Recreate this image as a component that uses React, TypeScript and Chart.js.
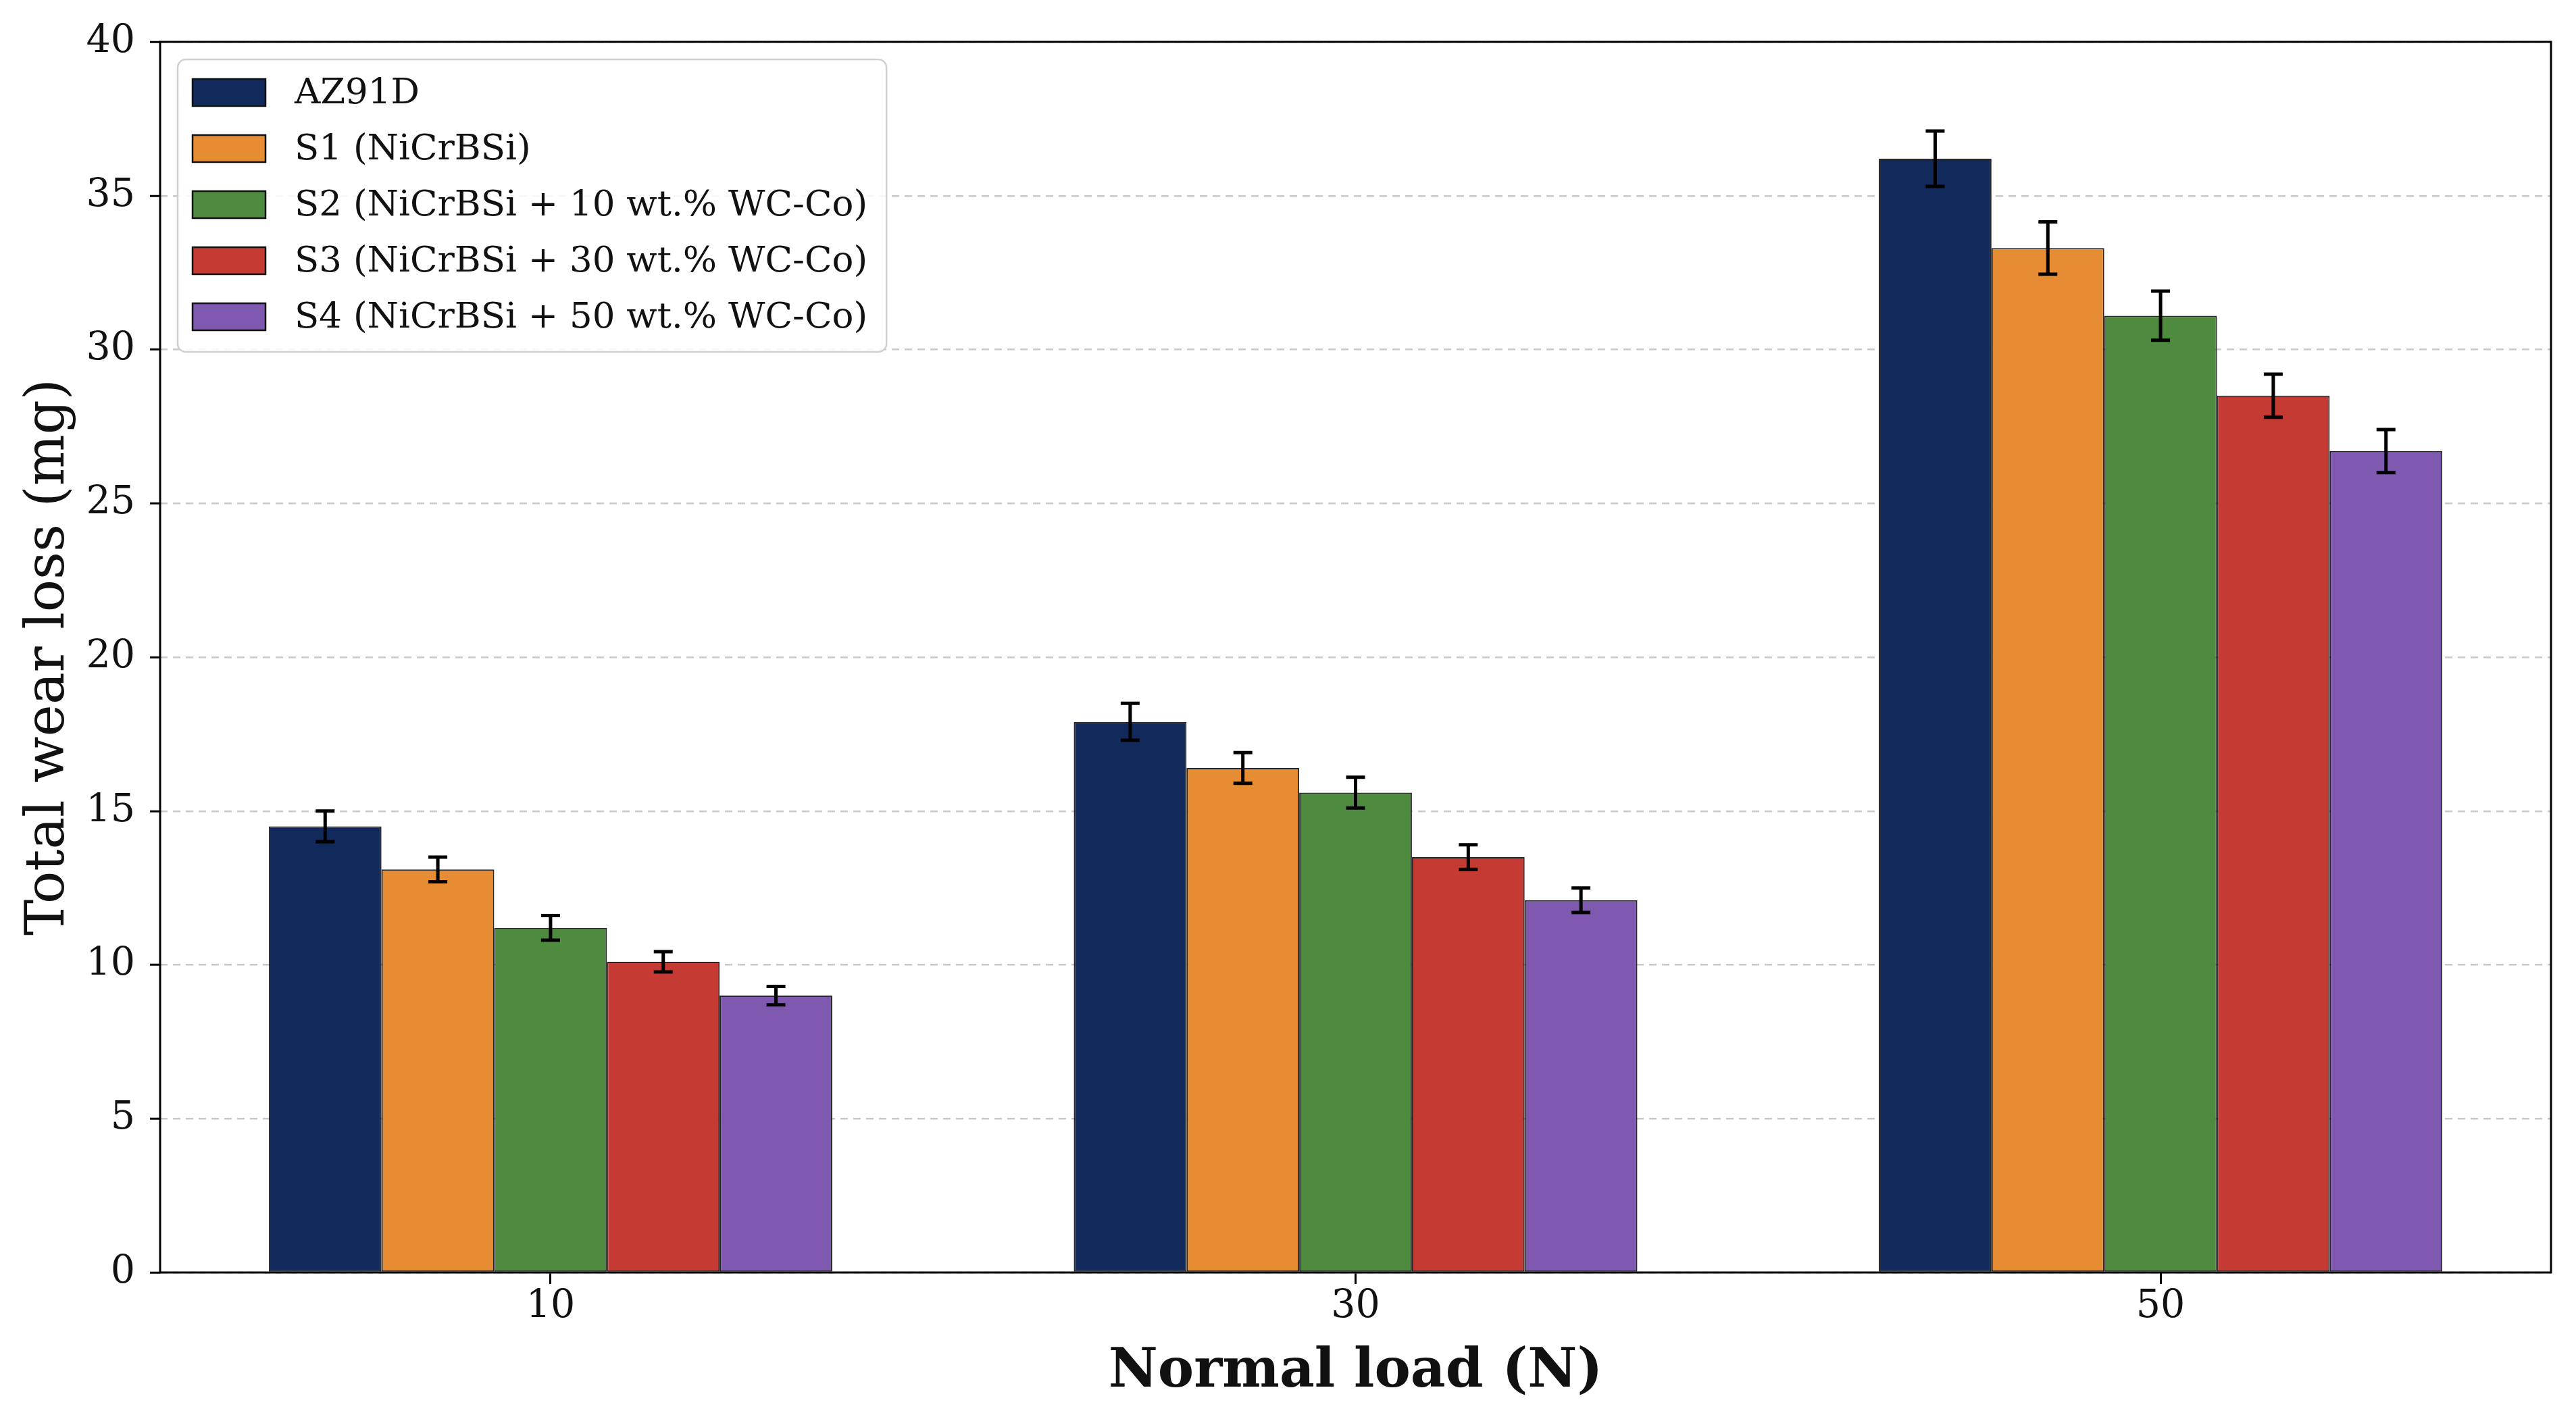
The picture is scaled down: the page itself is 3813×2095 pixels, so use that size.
import React, { useEffect, useRef } from 'react';
import { Chart, registerables } from 'chart.js';

Chart.register(...registerables);

// loads on the x axis (N)
const loads = ['10', '30', '50'];

const seriesNames = [
    'AZ91D',
    'S1 (NiCrBSi)',
    'S2 (NiCrBSi + 10 wt.% WC-Co)',
    'S3 (NiCrBSi + 30 wt.% WC-Co)',
    'S4 (NiCrBSi + 50 wt.% WC-Co)',
];

// total wear loss (mg)
const az91d = [14.5, 17.9, 36.2];
const s1 = [13.1, 16.4, 33.3];
const s2 = [11.2, 15.6, 31.1];
const s3 = [10.1, 13.5, 28.5];
const s4 = [9.0, 12.1, 26.7];

// error bar half-heights (mg)
const az91dErr = [0.5, 0.6, 0.9];
const s1Err = [0.4, 0.5, 0.85];
const s2Err = [0.4, 0.5, 0.8];
const s3Err = [0.33, 0.4, 0.7];
const s4Err = [0.3, 0.4, 0.7];

const barColors = ['#12295B', '#E68C33', '#4F8B3E', '#C53A32', '#7F58B0'];

const FONT = "'DejaVu Serif', serif";

const seriesValues = [az91d, s1, s2, s3, s4];
const seriesErrors = [az91dErr, s1Err, s2Err, s3Err, s4Err];

const overlayPlugin = {
    id: 'overlay',
    afterDraw(chart: any) {
        const { ctx, chartArea, scales } = chart;
        const yScale = scales.y;

        // error bars
        ctx.save();
        ctx.strokeStyle = '#000';
        ctx.lineWidth = 5;
        chart.data.datasets.forEach((ds: any, i: number) => {
            const meta = chart.getDatasetMeta(i);
            const errs = seriesErrors[i];
            meta.data.forEach((bar: any, j: number) => {
                const v = ds.data[j].y;
                const yTop = yScale.getPixelForValue(v + errs[j]);
                const yBot = yScale.getPixelForValue(v - errs[j]);
                const x = bar.x;
                const cap = 14;
                ctx.beginPath();
                ctx.moveTo(x, yTop);
                ctx.lineTo(x, yBot);
                ctx.moveTo(x - cap, yTop);
                ctx.lineTo(x + cap, yTop);
                ctx.moveTo(x - cap, yBot);
                ctx.lineTo(x + cap, yBot);
                ctx.stroke();
            });
        });
        ctx.restore();

        // frame
        ctx.save();
        ctx.strokeStyle = '#000';
        ctx.lineWidth = 3;
        ctx.strokeRect(chartArea.left, chartArea.top, chartArea.right - chartArea.left, chartArea.bottom - chartArea.top);
        ctx.restore();

        // legend, upper left inside the axes
        ctx.save();
        const fontSize = 53;
        ctx.font = `${fontSize}px ${FONT}`;
        const boxLeft = chartArea.left + 26;
        const boxTop = chartArea.top + 26;
        const swatchLeft = boxLeft + 22;
        const swatchW = 108;
        const swatchH = 40;
        const textLeft = swatchLeft + swatchW + 43;
        const rowH = 83;
        const firstRow = boxTop + 49;
        let maxW = 0;
        chart.data.datasets.forEach((ds: any) => {
            maxW = Math.max(maxW, ctx.measureText(ds.label).width);
        });
        const boxW = textLeft + maxW + 28 - boxLeft;
        const boxH = firstRow - boxTop + rowH * (chart.data.datasets.length - 1) + 52;
        ctx.beginPath();
        ctx.roundRect(boxLeft, boxTop, boxW, boxH, 12);
        ctx.fillStyle = 'rgba(255,255,255,0.85)';
        ctx.fill();
        ctx.strokeStyle = '#d0d0d0';
        ctx.lineWidth = 2.5;
        ctx.stroke();
        chart.data.datasets.forEach((ds: any, i: number) => {
            const cy = firstRow + i * rowH;
            ctx.fillStyle = ds.backgroundColor;
            ctx.fillRect(swatchLeft, cy - swatchH / 2, swatchW, swatchH);
            ctx.strokeStyle = '#111';
            ctx.lineWidth = 2.5;
            ctx.strokeRect(swatchLeft, cy - swatchH / 2, swatchW, swatchH);
            ctx.fillStyle = '#111';
            ctx.textBaseline = 'middle';
            ctx.textAlign = 'left';
            ctx.fillText(ds.label, textLeft, cy + 2);
        });
        ctx.restore();
    },
};

const WearLossChart: React.FC = () => {
    const chartRef = useRef<HTMLCanvasElement>(null);
    const chartInstance = useRef<Chart | null>(null);

    useEffect(() => {
        if (!chartRef.current) return;
        if (chartInstance.current) {
            chartInstance.current.destroy();
        }
        const ctx = chartRef.current.getContext('2d');
        if (!ctx) return;

        const datasets = seriesNames.map((name, i) => ({
            label: name,
            data: seriesValues[i].map((v, j) => ({ x: j, y: v })),
            backgroundColor: barColors[i],
            borderColor: 'rgba(17,17,17,0.9)',
            borderWidth: 2,
            borderSkipped: false as const,
            categoryPercentage: 0.7,
            barPercentage: 1.0,
        }));

        chartInstance.current = new Chart(ctx, {
            type: 'bar',
            data: { datasets },
            plugins: [overlayPlugin],
            options: {
                responsive: true,
                maintainAspectRatio: false,
                animation: false,
                layout: { padding: { top: 62, right: 37, left: 0, bottom: 0 } },
                plugins: {
                    legend: { display: false },
                    tooltip: { enabled: false },
                },
                scales: {
                    x: {
                        type: 'linear',
                        min: -0.485,
                        max: 2.485,
                        offset: false,
                        afterBuildTicks: (scale: any) => {
                            scale.ticks = loads.map((_, i) => ({ value: i }));
                        },
                        afterFit: (scale: any) => {
                            scale.height = 211;
                        },
                        grid: {
                            offset: false,
                            drawOnChartArea: false,
                            drawTicks: true,
                            tickLength: 17,
                            tickWidth: 3,
                            tickColor: '#000',
                            tickBorderDash: [],
                        },
                        border: { display: false },
                        ticks: {
                            autoSkip: false,
                            maxRotation: 0,
                            padding: 0,
                            color: '#111',
                            font: { family: FONT, size: 57 },
                            callback: (value: any) => loads[value] ?? '',
                        },
                        title: {
                            display: true,
                            text: 'Normal load (N)',
                            color: '#111',
                            font: { family: FONT, size: 80, weight: 'bold' },
                            padding: { top: 0, bottom: 15 },
                        },
                    },
                    y: {
                        min: 0,
                        max: 40,
                        afterFit: (scale: any) => {
                            scale.width = 237;
                        },
                        grid: {
                            color: '#c8c8c8',
                            lineWidth: 2.5,
                            drawTicks: true,
                            tickLength: 15,
                            tickWidth: 3,
                            tickColor: '#000',
                            tickBorderDash: [],
                        },
                        border: { display: false, dash: [11, 8] },
                        ticks: {
                            stepSize: 5,
                            padding: 22,
                            color: '#111',
                            font: { family: FONT, size: 57 },
                        },
                        title: {
                            display: true,
                            text: 'Total wear loss (mg)',
                            color: '#111',
                            font: { family: FONT, size: 80 },
                            padding: { top: 25, bottom: 0 },
                        },
                    },
                },
            },
        });

        return () => {
            if (chartInstance.current) {
                chartInstance.current.destroy();
                chartInstance.current = null;
            }
        };
    }, []);

    return (
        <div style={{ position: 'fixed', left: 0, top: 0, width: '100vw', height: '100vh', background: '#fff' }}>
            <canvas ref={chartRef}></canvas>
        </div>
    );
};

export default function App() {
    return <WearLossChart />;
}
